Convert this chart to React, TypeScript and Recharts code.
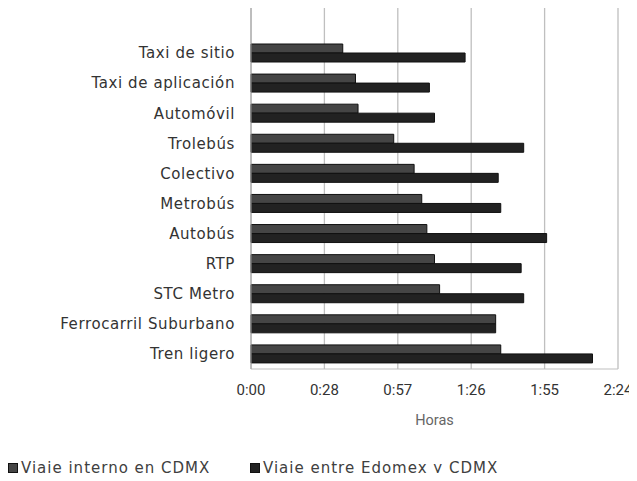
import { BarChart, Bar, XAxis, YAxis, CartesianGrid } from "recharts";

// minutes per trip by mode
const modos = [
  "Taxi de sitio",
  "Taxi de aplicación",
  "Automóvil",
  "Trolebús",
  "Colectivo",
  "Metrobús",
  "Autobús",
  "RTP",
  "STC Metro",
  "Ferrocarril Suburbano",
  "Tren ligero",
];
const internoCdmx = [36, 41, 42, 56, 64, 67, 69, 72, 74, 96, 98];
const entreEdomexCdmx = [84, 70, 72, 107, 97, 98, 116, 106, 107, 96, 134];
const xTicks = [0, 28.8, 57.6, 86.4, 115.2, 144];

const data = modos.map((modo, i) => ({
  modo,
  interno: internoCdmx[i],
  entre: entreEdomexCdmx[i],
}));

const series = [
  { key: "interno", name: "Viaje interno en CDMX", fill: "#454545" },
  { key: "entre", name: "Viaje entre Edomex y CDMX", fill: "#222222" },
];

const labelFont = "'DejaVu Sans', sans-serif";

const fmtHoras = (m: number) => {
  const h = Math.floor(m / 60);
  const mm = Math.floor(m - h * 60);
  return `${h}:${String(mm).padStart(2, "0")}`;
};

// legend drawn as plain html under the chart
const LegendBox = () => (
  <div
    style={{
      position: "absolute",
      left: 8,
      top: 458,
      height: 20,
      fontFamily: labelFont,
      fontSize: 15,
      letterSpacing: 1,
      color: "#404040",
      whiteSpace: "nowrap",
    }}
  >
    {series.map((s, i) => (
      <div
        key={s.key}
        style={{
          position: "absolute",
          left: i === 0 ? 0 : 242,
          top: 0,
          height: 20,
          display: "flex",
          alignItems: "center",
        }}
      >
        <div
          style={{
            minWidth: 8,
            width: 8,
            height: 8,
            background: s.fill,
            border: "1px solid #111",
            marginRight: 3,
            boxSizing: "content-box",
          }}
        />
        <span>{s.name}</span>
      </div>
    ))}
  </div>
);

export default function App() {
  return (
    <div
      style={{
        margin: -8,
        background: "#fff",
        width: 637,
        height: 481,
        position: "relative",
      }}
    >
      <BarChart
        width={637}
        height={481}
        data={data}
        layout="vertical"
        margin={{ top: 8, right: 19, bottom: 44, left: 0 }}
        barCategoryGap={6}
        barGap={0}
      >
        <CartesianGrid horizontal={false} stroke="#bfbfbf" strokeWidth={1.3} />
        <XAxis
          type="number"
          domain={[0, 144]}
          ticks={xTicks}
          tickFormatter={fmtHoras}
          tickLine={false}
          axisLine={{ stroke: "#bfbfbf" }}
          tick={{ fontFamily: "Roboto", fontSize: 15, fill: "#333" }}
          tickMargin={9}
          height={68}
          label={{
            value: "Horas",
            position: "insideBottom",
            offset: 12,
            fontFamily: "Roboto",
            fontSize: 14.5,
            fill: "#666",
          }}
        />
        <YAxis
          type="category"
          dataKey="modo"
          width={251}
          padding={{ top: 30 }}
          tickLine={false}
          axisLine={{ stroke: "#a6a6a6" }}
          tickMargin={10}
          interval={0}
          tick={{
            fontFamily: labelFont,
            fontSize: 15,
            letterSpacing: 0.6,
            fill: "#333",
          }}
        />
        {series.map((s) => (
          <Bar
            key={s.key}
            dataKey={s.key}
            name={s.name}
            fill={s.fill}
            stroke="#111"
            strokeWidth={1}
            isAnimationActive={false}
          />
        ))}
      </BarChart>
      <LegendBox />
    </div>
  );
}
